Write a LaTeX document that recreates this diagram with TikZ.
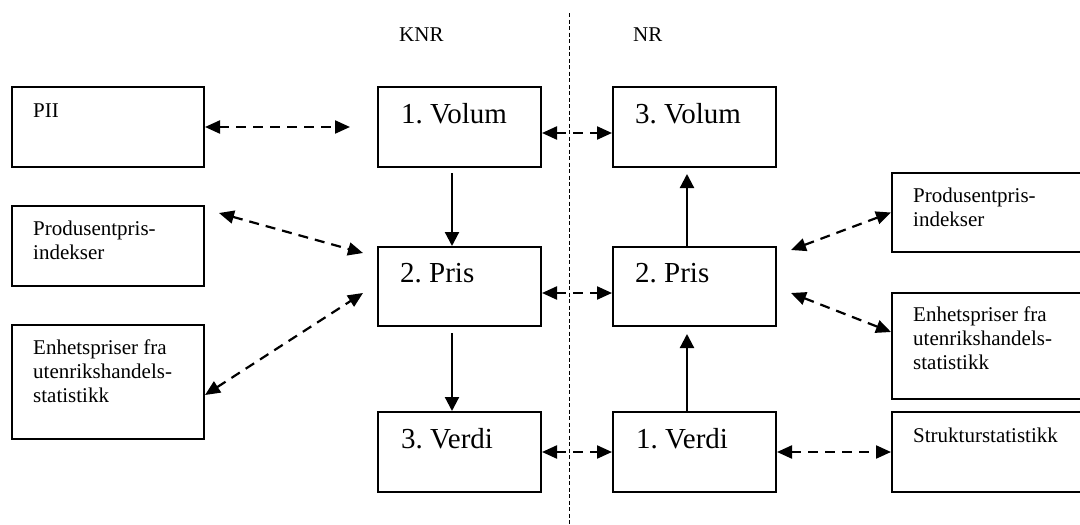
\documentclass[tikz,border=0pt]{standalone}
\usepackage{fontspec}
\setmainfont{Liberation Serif}
\usetikzlibrary{arrows.meta}
\frenchspacing
\begin{document}
\begin{tikzpicture}[x=1pt,y=-1pt,
  box/.style={draw, line width=2pt, minimum width=#1, inner sep=0pt},
  box/.default=163pt,
  small/.style={font=\fontsize{21}{24}\selectfont\frenchspacing, inner sep=0pt, anchor=base west},
  big/.style={font=\fontsize{29}{34}\selectfont\frenchspacing, inner sep=0pt, anchor=base west},
  dbl/.style={line width=2.2pt, dash pattern=on 10pt off 7pt, {Triangle[length=15pt,width=13pt]}-{Triangle[length=15pt,width=13pt]}},
  sgl/.style={line width=2.2pt, -{Triangle[length=14pt,width=14pt]}},
  divider/.style={line width=1pt, dash pattern=on 4pt off 2.5pt}
]
\useasboundingbox (0,0) rectangle (1080,525);
\clip (0,0) rectangle (1080,525);

% divider and column labels
\coordinate (dtop) at (569,13);
\coordinate (dbot) at (569,525);
\draw[divider] (dtop) -- (dbot);
\node[small] (knr) at (399,41) {KNR};
\node[small] (nr) at (633,41) {NR};

% left source boxes
\node[box=192pt, minimum height=80pt] (pii) at (108,127) {};
\node[box=192pt, minimum height=80pt] (ppl) at (108,246) {};
\node[box=192pt, minimum height=114pt] (epl) at (108,382) {};
\node[small] at (33,117) {PII};
\node[small] at (33,235) {\vtop{\hbox{Produsentpris-}\hbox{indekser}}};
\node[small] at (33,354) {\vtop{\hbox{Enhetspriser fra}\hbox{utenrikshandels-}\hbox{statistikk}}};

% KNR column
\node[box, minimum height=80pt] (v1) at (459.5,127) {};
\node[box, minimum height=79pt] (p2) at (459.5,286.5) {};
\node[box, minimum height=80pt] (d3) at (459.5,452) {};
\node[big] at (401,123) {1. Volum};
\node[big] at (400,282) {2. Pris};
\node[big] at (401,448) {3. Verdi};

% NR column
\node[box, minimum height=80pt] (v3) at (694.5,127) {};
\node[box, minimum height=79pt] (p2n) at (694.5,286.5) {};
\node[box, minimum height=80pt] (d1) at (694.5,452) {};
\node[big] at (635,123) {3. Volum};
\node[big] at (635,282) {2. Pris};
\node[big] at (636,448) {1. Verdi};

% right source boxes
\node[box=208pt, minimum height=79pt] (ppr) at (996,212.5) {};
\node[box=208pt, minimum height=106pt] (epr) at (996,346) {};
\node[box=208pt, minimum height=80pt] (str) at (996,452) {};
\node[small] at (913,202) {\vtop{\hbox{Produsentpris-}\hbox{indekser}}};
\node[small] at (913,321) {\vtop{\hbox{Enhetspriser fra}\hbox{utenrikshandels-}\hbox{statistikk}}};
\node[small] at (913,442) {Strukturstatistikk};

% free ends of dashed connectors
\coordinate (piiend) at (350,127);
\coordinate (pplstart) at (219,213);
\coordinate (pplend) at (363,253);
\coordinate (eplend) at (363,293);
\coordinate (pprstart) at (791,250);
\coordinate (eprstart) at (791,293);

% dashed two-way connectors
\draw[dbl] (pii.east) -- (piiend);
\draw[dbl] (pplstart) -- (pplend);
\draw[dbl] ([yshift=-13pt]epl.east) -- (eplend);
\draw[dbl] ([yshift=-6pt]v1.east) -- ([yshift=-6pt]v3.west);
\draw[dbl] ([yshift=-6.5pt]p2.east) -- ([yshift=-6.5pt]p2n.west);
\draw[dbl] (d3.east) -- (d1.west);
\draw[dbl] (pprstart) -- (ppr.west);
\draw[dbl] (eprstart) -- ([yshift=14pt]epr.west);
\draw[dbl] (d1.east) -- (str.west);

% solid one-way connectors
\draw[sgl] ([shift={(-7.5pt,-5pt)}]v1.south) -- ([xshift=-7.5pt]p2.north);
\draw[sgl] ([shift={(-7.5pt,-6pt)}]p2.south) -- ([xshift=-7.5pt]d3.north);
\draw[sgl] ([xshift=-7.5pt]d1.north) -- ([shift={(-7.5pt,-7pt)}]p2n.south);
\draw[sgl] ([xshift=-7.5pt]p2n.north) -- ([shift={(-7.5pt,-6pt)}]v3.south);
\end{tikzpicture}
\end{document}
